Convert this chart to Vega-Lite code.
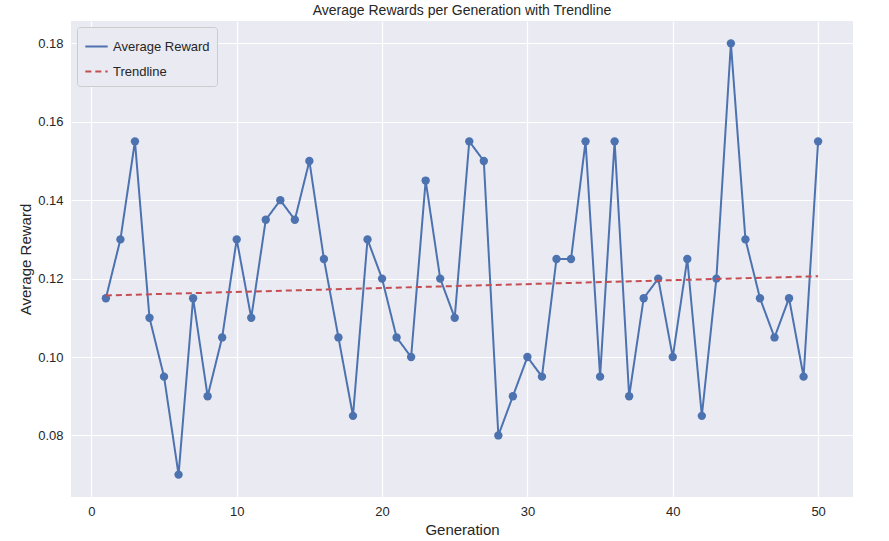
{
  "$schema": "https://vega.github.io/schema/vega-lite/v6.json",
  "width": 889,
  "height": 541,
  "autosize": {"type": "fit", "contains": "padding"},
  "padding": {"left": 18, "right": 36, "top": 4, "bottom": 4},
  "background": "white",
  "title": {"text": "Average Rewards per Generation with Trendline", "fontSize": 14, "fontWeight": "normal", "font": "Liberation Sans", "color": "#262626", "offset": 3},
  "config": {
    "view": {"fill": "#EAEAF2", "stroke": null},
    "axis": {"grid": true, "gridColor": "white", "gridWidth": 1.2, "domain": false, "ticks": false, "labelFont": "Liberation Sans", "titleFont": "Liberation Sans", "labelFontSize": 13, "titleFontSize": 15, "titleFontWeight": "normal", "labelColor": "#262626", "titleColor": "#262626", "labelPadding": 8}
  },
  "datasets": {
    "rewards": [
      {"g":1,"r":0.115},{"g":2,"r":0.13},{"g":3,"r":0.155},{"g":4,"r":0.11},{"g":5,"r":0.095},
      {"g":6,"r":0.07},{"g":7,"r":0.115},{"g":8,"r":0.09},{"g":9,"r":0.105},{"g":10,"r":0.13},
      {"g":11,"r":0.11},{"g":12,"r":0.135},{"g":13,"r":0.14},{"g":14,"r":0.135},{"g":15,"r":0.15},
      {"g":16,"r":0.125},{"g":17,"r":0.105},{"g":18,"r":0.085},{"g":19,"r":0.13},{"g":20,"r":0.12},
      {"g":21,"r":0.105},{"g":22,"r":0.10},{"g":23,"r":0.145},{"g":24,"r":0.12},{"g":25,"r":0.11},
      {"g":26,"r":0.155},{"g":27,"r":0.15},{"g":28,"r":0.08},{"g":29,"r":0.09},{"g":30,"r":0.10},
      {"g":31,"r":0.095},{"g":32,"r":0.125},{"g":33,"r":0.125},{"g":34,"r":0.155},{"g":35,"r":0.095},
      {"g":36,"r":0.155},{"g":37,"r":0.09},{"g":38,"r":0.115},{"g":39,"r":0.12},{"g":40,"r":0.10},
      {"g":41,"r":0.125},{"g":42,"r":0.085},{"g":43,"r":0.12},{"g":44,"r":0.18},{"g":45,"r":0.13},
      {"g":46,"r":0.115},{"g":47,"r":0.105},{"g":48,"r":0.115},{"g":49,"r":0.095},{"g":50,"r":0.155}
    ],
    "trend": [{"g":1,"r":0.1157},{"g":50,"r":0.1206}]
  },
  "encoding": {
    "x": {"field": "g", "type": "quantitative", "title": "Generation", "scale": {"domain": [-1.4, 52.4], "nice": false, "zero": false}, "axis": {"values": [0,10,20,30,40,50]}},
    "y": {"field": "r", "type": "quantitative", "title": "Average Reward", "scale": {"domain": [0.0643, 0.1857], "nice": false, "zero": false}, "axis": {"values": [0.08,0.10,0.12,0.14,0.16,0.18], "format": ".2f"}},
    "color": {"datum": "Average Reward", "type": "nominal", "title": null, "scale": {"domain": ["Average Reward", "Trendline"], "range": ["#4C72B0", "#C44E52"]},
      "legend": {"title": null, "orient": "top-left", "offset": 6, "fillColor": "#EAEAF2", "strokeColor": "#cccccc", "padding": 7, "cornerRadius": 3, "labelFont": "Liberation Sans", "labelFontSize": 13, "labelColor": "#262626", "symbolType": "stroke", "symbolSize": 500, "symbolStrokeWidth": 2, "rowPadding": 5}},
    "strokeDash": {"datum": "Average Reward", "type": "nominal", "title": null, "scale": {"domain": ["Average Reward", "Trendline"], "range": [[1, 0], [6, 4]]}}
  },
  "layer": [
    {"data": {"name": "rewards"}, "mark": {"type": "line", "strokeWidth": 2, "point": {"filled": true, "size": 70, "opacity": 1}}},
    {"data": {"name": "trend"}, "mark": {"type": "line", "strokeWidth": 2}, "encoding": {"color": {"datum": "Trendline", "type": "nominal"}, "strokeDash": {"datum": "Trendline", "type": "nominal"}}}
  ]
}
